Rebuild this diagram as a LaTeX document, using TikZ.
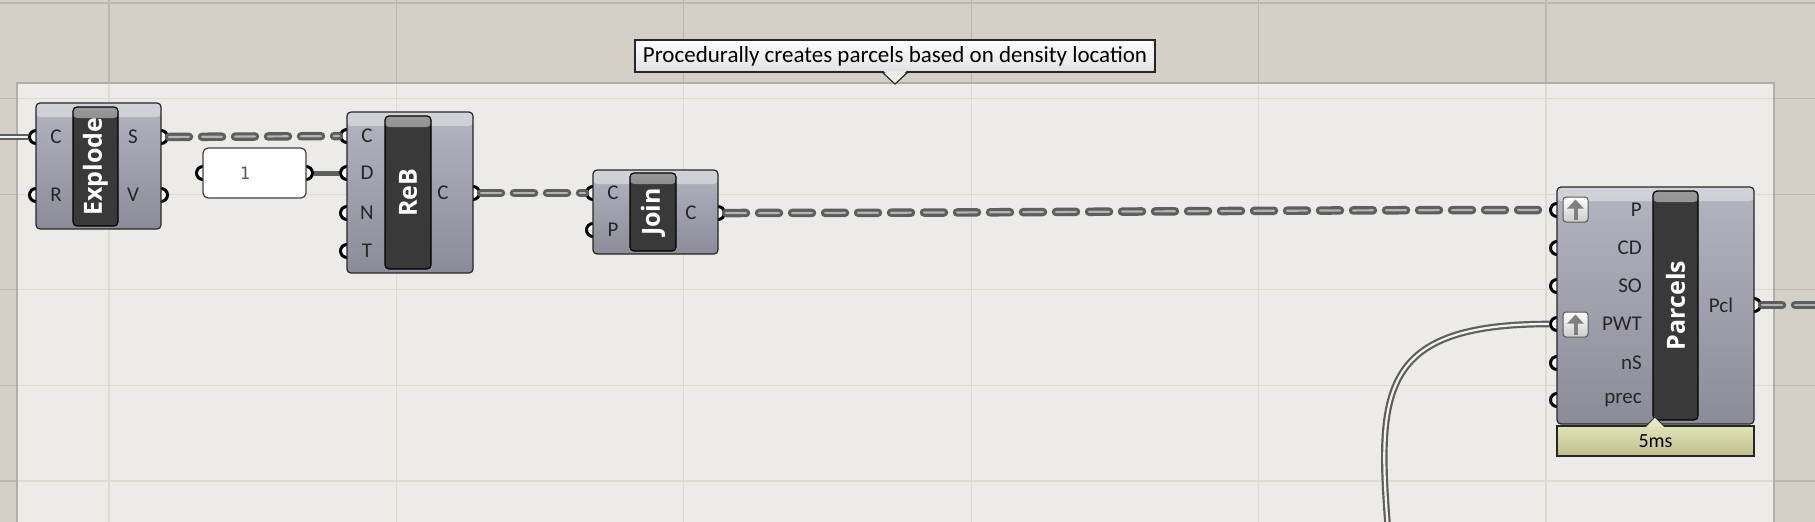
\documentclass[tikz,border=0pt]{standalone}
\usepackage{fontspec}
\setmainfont{Carlito}
\newfontfamily\namefont{Open Sans}
\newfontfamily\panelfont{DejaVu Sans Mono}
\usetikzlibrary{arrows.meta}

\definecolor{canvasbg}{HTML}{D4D0C8}
\definecolor{groupbg}{HTML}{ECEBE7}
\definecolor{gridout}{HTML}{BCB8B0}
\definecolor{gridin}{HTML}{DCDBD6}
\definecolor{groupedge}{HTML}{B0AEA8}
\definecolor{wirecol}{HTML}{5E5E5E}
\definecolor{wirelight}{HTML}{B4B4B4}
\definecolor{comptop}{HTML}{B4B4C0}
\definecolor{compbot}{HTML}{8C8C99}
\definecolor{barcol}{HTML}{393939}
\definecolor{timecol}{HTML}{D5D59B}

\tikzset{
  comp/.style 2 args={draw=black!85, line width=1.2pt, rounded corners=4pt,
    top color=comptop, bottom color=compbot, minimum width=#1, minimum height=#2,
    inner sep=0pt,
    path picture={\fill[white,opacity=.4] (path picture bounding box.north west)
      rectangle ([yshift=-14pt]path picture bounding box.north east);}},
  bar/.style 2 args={draw=black, line width=1.2pt, rounded corners=4pt, fill=barcol,
    minimum width=#1, minimum height=#2, inner sep=0pt,
    path picture={\shade[top color=black!40, bottom color=barcol]
      (path picture bounding box.north west)
      rectangle ([yshift=-11pt]path picture bounding box.north east);}},
  barname/.style={rotate=90, text=white, inner sep=0pt,
    font=\namefont\bfseries\fontsize{25}{25}\selectfont},
  plabel/.style={inner sep=0pt, text=black!85, font=\fontsize{21}{21}\selectfont},
  port/.style={circle, draw=black, line width=3pt, fill=white, minimum size=13pt,
    inner sep=0pt},
  upbtn/.style={draw=black!65, line width=1pt, rounded corners=3pt,
    top color=white, bottom color=black!20, minimum size=25pt, inner sep=0pt},
  listwire/.style={draw=wirecol, line width=8.5pt, line cap=round,
    dash pattern=on 20pt off 13pt,
    postaction={draw=wirelight, line width=2.2pt, line cap=round,
      dash pattern=on 20pt off 13pt}},
  itemwire/.style={draw=wirecol, line width=5pt},
  dblwire/.style={draw=wirecol, line width=2.2pt, double=groupbg!60!white,
    double distance=2.2pt}
}

\begin{document}
\begin{tikzpicture}[x=1pt, y=-1pt]
\useasboundingbox (0,0) rectangle (1815,522);
\clip (0,0) rectangle (1815,522);

% canvas and grid
\fill[canvasbg] (0,0) rectangle (1815,522);
\foreach \gx in {109,396.4,683.8,971.2,1258.6,1546}
  \draw[gridout, line width=1.2pt] (\gx,0) -- (\gx,522);
\foreach \gy in {3,98.6,194.2,289.8,385.4,481}
  \draw[gridout, line width=1.2pt] (0,\gy) -- (1815,\gy);

% group
\fill[groupbg] (17,83) rectangle (1774,540);
\begin{scope}
\clip (17,83) rectangle (1774,540);
\foreach \gx in {109,396.4,683.8,971.2,1258.6,1546}
  \draw[gridin, line width=1.2pt] (\gx,0) -- (\gx,522);
\foreach \gy in {3,98.6,194.2,289.8,385.4,481}
  \draw[gridin, line width=1.2pt] (0,\gy) -- (1815,\gy);
\end{scope}
\draw[groupedge, line width=1.5pt] (17,540) -- (17,83) -- (1774,83) -- (1774,540);

% tooltip
\fill[white] (882,71) -- (895,84) -- (908,71) -- cycle;
\draw[black!85, line width=1.2pt] (882,72) -- (895,84) -- (908,72);
\node[draw=black!85, line width=1.2pt, top color=white, bottom color=black!12,
  minimum width=520pt, minimum height=32pt, inner sep=0pt,
  font=\fontsize{23}{23}\selectfont] (tooltip) at (895,56)
  {Procedurally creates parcels based on density location};
\fill[white!92!black] (883.5,71) -- (895,82.5) -- (906.5,71) -- cycle;

% ports
\node[port] (explode-C) at (36,137) {};
\node[port] (explode-R) at (36,195) {};
\node[port] (explode-S) at (161,137) {};
\node[port] (explode-V) at (161,195) {};
\node[port] (panel-in) at (203,173) {};
\node[port] (panel-out) at (306,173) {};
\node[port] (reb-C) at (347,136) {};
\node[port] (reb-D) at (347,173) {};
\node[port] (reb-N) at (347,213) {};
\node[port] (reb-T) at (347,251) {};
\node[port] (reb-out) at (473,193) {};
\node[port] (join-C) at (593,193) {};
\node[port] (join-P) at (593,230) {};
\node[port] (join-out) at (718,213) {};
\node[port] (parcels-P) at (1557,210) {};
\node[port] (parcels-CD) at (1557,248) {};
\node[port] (parcels-SO) at (1557,286) {};
\node[port] (parcels-PWT) at (1557,324) {};
\node[port] (parcels-nS) at (1557,363) {};
\node[port] (parcels-prec) at (1557,400) {};
\node[port] (parcels-out) at (1754,305) {};

\coordinate (feed) at (0,137);
\coordinate (pcl-end) at (1815,305);
\coordinate (pwt-src) at (1388,530);

% wires
\draw[dblwire] (feed) -- (explode-C);
\draw[listwire] (explode-S) -- (reb-C);
\draw[itemwire] (panel-out) -- (reb-D);
\draw[listwire] (reb-out) -- (join-C);
\draw[listwire] (join-out) .. controls +(300,0) and +(-300,0) .. (parcels-P);
\draw[listwire] (parcels-out) -- (pcl-end);
\draw[dblwire] (pwt-src) .. controls (1377,390) and (1380,324) .. (parcels-PWT);

% Explode
\node[comp={125pt}{126pt}] (explode) at (98.5,166) {};
\node[bar={45pt}{119pt}] (explode-bar) at (95.5,166.5) {};
\node[barname] at (explode-bar) {Explode};
\node[plabel] (explode-lC) at (56,137) {C};
\node[plabel] (explode-lR) at (56,195) {R};
\node[plabel] (explode-lS) at (133,137) {S};
\node[plabel] (explode-lV) at (133,195) {V};

% number panel
\node[draw=black!75, line width=1.2pt, fill=white, rounded corners=5pt,
  minimum width=103pt, minimum height=50pt] (panel) at (254.5,173) {};
\node[text=black!65, font=\panelfont\fontsize{17}{17}\selectfont] (panel-val) at (245,173) {1};

% ReB
\node[comp={126pt}{161pt}] (reb) at (410,192.5) {};
\node[bar={46pt}{153pt}] (reb-bar) at (408,192.5) {};
\node[barname] at (reb-bar) {ReB};
\node[plabel] (reb-lC) at (367,136) {C};
\node[plabel] (reb-lD) at (367,173) {D};
\node[plabel] (reb-lN) at (367,213) {N};
\node[plabel] (reb-lT) at (367,251) {T};
\node[plabel] (reb-lout) at (443,193) {C};

% Join
\node[comp={125pt}{84pt}] (join) at (655.5,212) {};
\node[bar={46pt}{78pt}] (join-bar) at (653,212) {};
\node[barname] at (join-bar) {Join};
\node[plabel] (join-lC) at (613,193) {C};
\node[plabel] (join-lP) at (613,230) {P};
\node[plabel] (join-lout) at (691,213) {C};

% Parcels
\node[comp={197pt}{237pt}] (parcels) at (1655.5,305.5) {};
\node[bar={45pt}{229pt}] (parcels-bar) at (1675.5,305.5) {};
\node[barname] at (parcels-bar) {Parcels};
\node[plabel, anchor=east] (parcels-lP) at (1642,210) {P};
\node[plabel, anchor=east] (parcels-lCD) at (1642,248) {CD};
\node[plabel, anchor=east] (parcels-lSO) at (1642,286) {SO};
\node[plabel, anchor=east] (parcels-lPWT) at (1642,324) {PWT};
\node[plabel, anchor=east] (parcels-lnS) at (1642,363) {nS};
\node[plabel, anchor=east] (parcels-lprec) at (1642,400) {prec};
\node[plabel] (parcels-lout) at (1721,305) {Pcl};
\node[upbtn] (btn-P) at (1575.5,209.5) {};
\node[upbtn] (btn-PWT) at (1575.5,324.5) {};
\draw[black!50, line width=4pt, -{Triangle[width=16pt,length=9pt]}]
  ([yshift=-10pt]btn-P.center) -- ([yshift=10pt]btn-P.center);
\draw[black!50, line width=4pt, -{Triangle[width=16pt,length=9pt]}]
  ([yshift=-10pt]btn-PWT.center) -- ([yshift=10pt]btn-PWT.center);

% timing
\node[draw=black!85, line width=1.2pt, top color=timecol!70!white, bottom color=timecol!90!black,
  minimum width=197pt, minimum height=30pt, inner sep=0pt,
  font=\fontsize{20}{20}\selectfont] (parcels-time) at (1655.5,441) {5ms};
\fill[timecol!60!white] (1646,427) -- (1655,417) -- (1664,427) -- cycle;
\draw[black!80, line width=1pt] (1646,426) -- (1655,417) -- (1664,426);
\end{tikzpicture}
\end{document}
